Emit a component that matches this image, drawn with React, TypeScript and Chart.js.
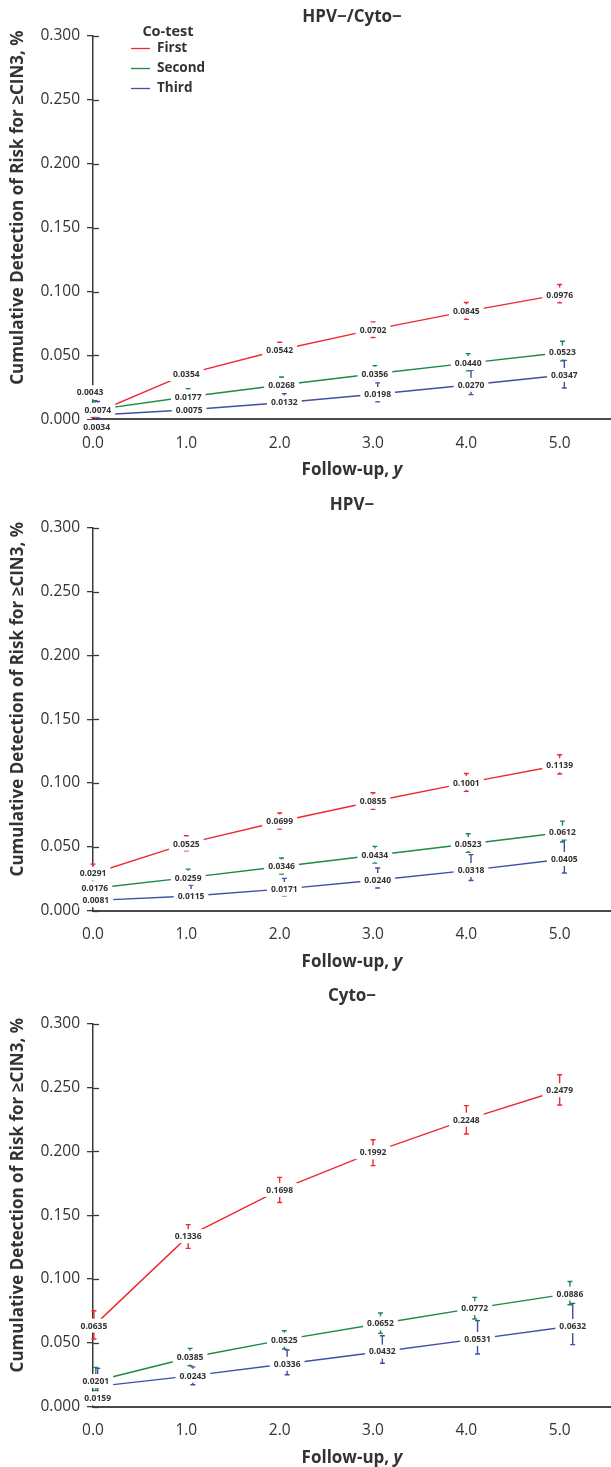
import React, { useEffect, useRef } from "react";
import { Chart, registerables } from "chart.js";

Chart.register(...registerables);

// ---------- data ----------
const seriesNames = ["First", "Second", "Third"];
const panelTitles = ["HPV−/Cyto−", "HPV−", "Cyto−"];
const legendTitle = "Co-test";
const yAxisTitle = "Cumulative Detection of Risk for ≥CIN3, %";
const xAxisTitleMain = "Follow-up, ";
const xAxisTitleVar = "y";
const xTickValues = [0, 1, 2, 3, 4, 5];
const yTickValues = [0, 0.05, 0.1, 0.15, 0.2, 0.25, 0.3];

// Panel 1: HPV−/Cyto−
const p1FirstX = [0, 1, 2, 3, 4, 5];
const p1FirstY = [0.0043, 0.0354, 0.0542, 0.0702, 0.0845, 0.0976];
const p1FirstLo = [0.0015, 0.0315, 0.0495, 0.064, 0.0783, 0.0911];
const p1FirstHi = [0.008, 0.0395, 0.0603, 0.0762, 0.0914, 0.1055];
const p1SecondX = [0.02, 1.02, 2.02, 3.02, 4.02, 5.03];
const p1SecondY = [0.0074, 0.0177, 0.0268, 0.0356, 0.044, 0.0523];
const p1SecondLo = [0.0025, 0.0135, 0.0225, 0.0305, 0.0379, 0.0457];
const p1SecondHi = [0.0146, 0.024, 0.0331, 0.042, 0.0514, 0.0611];
const p1ThirdX = [0.05, 1.03, 2.05, 3.05, 4.05, 5.05];
const p1ThirdY = [0.0034, 0.0075, 0.0132, 0.0198, 0.027, 0.0347];
const p1ThirdLo = [0.001, 0.0045, 0.0088, 0.0136, 0.0193, 0.0245];
const p1ThirdHi = [0.014, 0.0105, 0.0201, 0.0285, 0.0384, 0.0462];

// Panel 2: HPV−
const p2FirstX = [0, 1, 2, 3, 4, 5];
const p2FirstY = [0.0291, 0.0525, 0.0699, 0.0855, 0.1001, 0.1139];
const p2FirstLo = [0.0245, 0.047, 0.064, 0.0794, 0.0935, 0.1071];
const p2FirstHi = [0.0365, 0.0587, 0.0765, 0.0924, 0.1075, 0.1222];
const p2SecondX = [0.02, 1.02, 2.02, 3.02, 4.02, 5.03];
const p2SecondY = [0.0176, 0.0259, 0.0346, 0.0434, 0.0523, 0.0612];
const p2SecondLo = [0.014, 0.0215, 0.0287, 0.0373, 0.0457, 0.0538];
const p2SecondHi = [0.0215, 0.0326, 0.0413, 0.0504, 0.0603, 0.0702];
const p2ThirdX = [0.03, 1.05, 2.05, 3.05, 4.05, 5.05];
const p2ThirdY = [0.0081, 0.0115, 0.0171, 0.024, 0.0318, 0.0405];
const p2ThirdLo = [0.0055, 0.0075, 0.0117, 0.0178, 0.0237, 0.0295];
const p2ThirdHi = [0.011, 0.02, 0.0253, 0.0334, 0.0439, 0.0556];

// Panel 3: Cyto−
const p3FirstX = [0.01, 1.02, 2, 3, 4, 5];
const p3FirstY = [0.0635, 0.1336, 0.1698, 0.1992, 0.2248, 0.2479];
const p3FirstLo = [0.053, 0.124, 0.16, 0.1888, 0.2136, 0.2363];
const p3FirstHi = [0.0752, 0.1426, 0.1796, 0.2091, 0.2358, 0.26];
const p3SecondX = [0.03, 1.04, 2.05, 3.08, 4.09, 5.11];
const p3SecondY = [0.0201, 0.0385, 0.0525, 0.0652, 0.0772, 0.0886];
const p3SecondLo = [0.0125, 0.0321, 0.0452, 0.0574, 0.0687, 0.0799];
const p3SecondHi = [0.0308, 0.0457, 0.0595, 0.0734, 0.0856, 0.0981];
const p3ThirdX = [0.05, 1.07, 2.08, 3.1, 4.12, 5.14];
const p3ThirdY = [0.0159, 0.0243, 0.0336, 0.0432, 0.0531, 0.0632];
const p3ThirdLo = [0.005, 0.0172, 0.025, 0.034, 0.0413, 0.0486];
const p3ThirdHi = [0.03, 0.0312, 0.0444, 0.0556, 0.0674, 0.0809];

// ---------- styles ----------
const seriesColors = ["#ee2a30", "#1a8a45", "#3f50a3"];
const TEXT = "#333333";
const AXIS = "#3a3a3a";
const FONT = "'Open Sans', 'Noto Sans', sans-serif";

type Series = { x: number[]; y: number[]; lo: number[]; hi: number[] };
type Shift = { s: number; i: number; dx: number; dy: number };
type PanelSpec = {
  title: string;
  height: number;
  top: number;
  bottom: number;
  titleY: number;
  legend: boolean;
  series: Series[];
  shifts: Shift[];
};

const panels: PanelSpec[] = [
  {
    title: panelTitles[0],
    height: 490,
    top: 36,
    bottom: 419.3,
    titleY: 17.5,
    legend: true,
    series: [
      { x: p1FirstX, y: p1FirstY, lo: p1FirstLo, hi: p1FirstHi },
      { x: p1SecondX, y: p1SecondY, lo: p1SecondLo, hi: p1SecondHi },
      { x: p1ThirdX, y: p1ThirdY, lo: p1ThirdLo, hi: p1ThirdHi },
    ],
    shifts: [
      { s: 0, i: 0, dx: -3, dy: -21.5 },
      { s: 1, i: 0, dx: 3, dy: 0 },
      { s: 2, i: 0, dx: -1, dy: 12 },
    ],
  },
  {
    title: panelTitles[1],
    height: 492,
    top: 37.7,
    bottom: 420.7,
    titleY: 15.5,
    legend: false,
    series: [
      { x: p2FirstX, y: p2FirstY, lo: p2FirstLo, hi: p2FirstHi },
      { x: p2SecondX, y: p2SecondY, lo: p2SecondLo, hi: p2SecondHi },
      { x: p2ThirdX, y: p2ThirdY, lo: p2ThirdLo, hi: p2ThirdHi },
    ],
    shifts: [],
  },
  {
    title: panelTitles[2],
    height: 485,
    top: 41.7,
    bottom: 424.7,
    titleY: 14.5,
    legend: false,
    series: [
      { x: p3FirstX, y: p3FirstY, lo: p3FirstLo, hi: p3FirstHi },
      { x: p3SecondX, y: p3SecondY, lo: p3SecondLo, hi: p3SecondHi },
      { x: p3ThirdX, y: p3ThirdY, lo: p3ThirdLo, hi: p3ThirdHi },
    ],
    shifts: [{ s: 2, i: 0, dx: 0, dy: 12 }],
  },
];

const overlay = {
  id: "overlay",
  afterDraw(chart: any, _args: any, opts: any) {
    const { ctx, chartArea: ca, scales } = chart;
    const xs = scales.x;
    const ys = scales.y;
    ctx.save();

    // inner half of y tick marks
    ctx.strokeStyle = AXIS;
    ctx.lineWidth = 1.3;
    ys.ticks.forEach((t: any) => {
      const py = Math.round(ys.getPixelForValue(t.value)) + 0.5;
      ctx.beginPath();
      ctx.moveTo(ca.left, py);
      ctx.lineTo(ca.left + 6, py);
      ctx.stroke();
    });

    // error bars
    chart.data.datasets.forEach((ds: any) => {
      ctx.strokeStyle = ds.borderColor;
      ctx.lineWidth = 1.4;
      ds.data.forEach((pt: any, i: number) => {
        const px = xs.getPixelForValue(pt.x);
        const yl = ys.getPixelForValue(ds.errLo[i]);
        const yh = ys.getPixelForValue(ds.errHi[i]);
        ctx.beginPath();
        ctx.moveTo(px, yl);
        ctx.lineTo(px, yh);
        ctx.moveTo(px - 2.5, yl);
        ctx.lineTo(px + 2.5, yl);
        ctx.moveTo(px - 2.5, yh);
        ctx.lineTo(px + 2.5, yh);
        ctx.stroke();
      });
    });

    // value labels on white boxes
    ctx.font = `bold 8.5px ${FONT}`;
    ctx.textAlign = "center";
    ctx.textBaseline = "middle";
    chart.data.datasets.forEach((ds: any, si: number) => {
      ds.data.forEach((pt: any, i: number) => {
        const sh = (opts.shifts || []).find((s: Shift) => s.s === si && s.i === i);
        const px = xs.getPixelForValue(pt.x) + (sh ? sh.dx : 0);
        const py = ys.getPixelForValue(pt.y) + (sh ? sh.dy : 0);
        const txt = pt.y.toFixed(4);
        const w = ctx.measureText(txt).width + 8;
        ctx.fillStyle = "#ffffff";
        ctx.fillRect(px - w / 2, py - 7, w, 14);
        ctx.fillStyle = TEXT;
        ctx.fillText(txt, px, py + 0.5);
      });
    });

    const cx = (ca.left + ca.right) / 2;

    // panel title
    ctx.font = `bold 17px ${FONT}`;
    ctx.fillStyle = TEXT;
    ctx.textAlign = "center";
    ctx.textBaseline = "middle";
    ctx.fillText(opts.title, cx, opts.titleY);

    // x axis title with italic variable
    const mainFont = `bold 17px ${FONT}`;
    const varFont = `italic bold 17px ${FONT}`;
    ctx.font = mainFont;
    const w1 = ctx.measureText(xAxisTitleMain).width;
    ctx.font = varFont;
    const w2 = ctx.measureText(xAxisTitleVar).width;
    const sx = cx - (w1 + w2) / 2;
    const ty = ca.bottom + 51;
    ctx.textAlign = "left";
    ctx.font = mainFont;
    ctx.fillText(xAxisTitleMain, sx, ty);
    ctx.font = varFont;
    ctx.fillText(xAxisTitleVar, sx + w1, ty);

    // y axis title
    ctx.save();
    ctx.translate(18, (ca.top + ca.bottom) / 2 - 20);
    ctx.rotate(-Math.PI / 2);
    ctx.font = `bold 17px ${FONT}`;
    ctx.textAlign = "center";
    ctx.textBaseline = "middle";
    ctx.fillText(yAxisTitle, 0, 0);
    ctx.restore();

    // legend
    if (opts.legend) {
      ctx.font = `bold 14.5px ${FONT}`;
      ctx.textAlign = "center";
      ctx.textBaseline = "middle";
      ctx.fillStyle = TEXT;
      ctx.fillText(legendTitle, 168, 32);
      ctx.font = `bold 13.5px ${FONT}`;
      ctx.textAlign = "left";
      chart.data.datasets.forEach((ds: any, si: number) => {
        const ly = 48.5 + si * 20;
        ctx.strokeStyle = ds.borderColor;
        ctx.lineWidth = 1.3;
        ctx.beginPath();
        ctx.moveTo(131, ly);
        ctx.lineTo(150, ly);
        ctx.stroke();
        ctx.fillStyle = TEXT;
        ctx.fillText(ds.label, 157, ly);
      });
    }
    ctx.restore();
  },
};

function Panel({ spec }: { spec: PanelSpec }) {
  const ref = useRef<HTMLCanvasElement | null>(null);
  useEffect(() => {
    if (!ref.current) return;
    const chart = new Chart(ref.current, {
      type: "line",
      data: {
        datasets: spec.series.map((s, si) => ({
          label: seriesNames[si],
          data: s.x.map((x, i) => ({ x, y: s.y[i] })),
          errLo: s.lo,
          errHi: s.hi,
          borderColor: seriesColors[si],
          backgroundColor: seriesColors[si],
          borderWidth: 1.4,
          pointRadius: 0,
          pointHoverRadius: 0,
          tension: 0,
          fill: false,
        })) as any,
      },
      options: {
        animation: false,
        responsive: false,
        maintainAspectRatio: false,
        events: [],
        layout: { padding: { top: spec.top, left: 0, right: 0, bottom: 0 } },
        plugins: {
          legend: { display: false },
          title: { display: false },
          tooltip: { enabled: false },
          overlay: {
            title: spec.title,
            titleY: spec.titleY,
            legend: spec.legend,
            shifts: spec.shifts,
          },
        } as any,
        scales: {
          x: {
            type: "linear",
            min: 0,
            max: 5.55,
            afterBuildTicks: (sc: any) => {
              sc.ticks = xTickValues.map((v) => ({ value: v }));
            },
            afterFit: (sc: any) => {
              sc.height = spec.height - spec.bottom;
            },
            ticks: {
              callback: (v: any) => Number(v).toFixed(1),
              padding: 15,
              color: TEXT,
              font: { family: FONT, size: 15.5 },
              maxRotation: 0,
              autoSkip: false,
            },
            grid: { drawOnChartArea: false, drawTicks: false },
            border: { display: true, color: "#4a4a4a", width: 2 },
          },
          y: {
            type: "linear",
            min: 0,
            max: 0.3,
            afterBuildTicks: (sc: any) => {
              sc.ticks = yTickValues.map((v) => ({ value: v }));
            },
            afterFit: (sc: any) => {
              sc.width = 93;
            },
            ticks: {
              callback: (v: any) => Number(v).toFixed(3),
              padding: 7,
              color: TEXT,
              font: { family: FONT, size: 15.5 },
              autoSkip: false,
            },
            grid: {
              drawOnChartArea: false,
              drawTicks: true,
              tickLength: 6,
              color: AXIS,
              lineWidth: 1.3,
            },
            border: { display: true, color: AXIS, width: 1.5 },
          },
        } as any,
      },
      plugins: [overlay as any],
    });
    return () => chart.destroy();
  }, [spec]);
  return (
    <canvas
      ref={ref}
      width={611}
      height={spec.height}
      style={{ display: "block", width: 611, height: spec.height }}
    />
  );
}

export default function App() {
  useEffect(() => {
    document.body.style.margin = "0";
  }, []);
  return (
    <div style={{ width: 611, background: "#ffffff" }}>
      {panels.map((p, i) => (
        <Panel key={i} spec={p} />
      ))}
    </div>
  );
}
